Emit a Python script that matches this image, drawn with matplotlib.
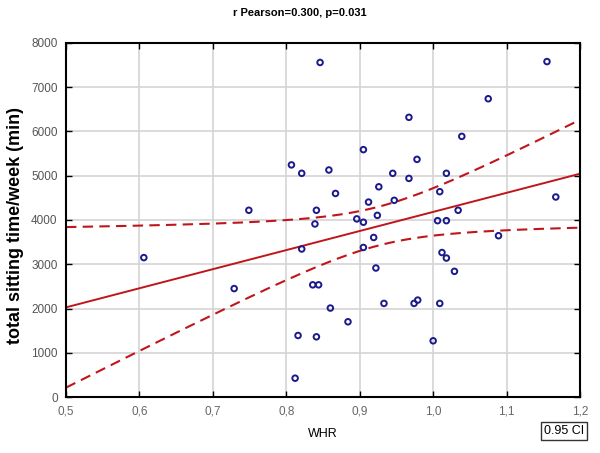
import numpy as np
import matplotlib
matplotlib.use("Agg")
import matplotlib.pyplot as plt

plt.rcParams['font.family'] = ['Liberation Sans', 'DejaVu Sans']

# WHR vs total sitting time/week (min)
whr = [0.846, 0.807, 0.821, 0.858, 0.867, 0.749, 0.841, 0.839, 1.155, 1.075,
       0.967, 1.039, 0.905, 0.978, 0.945, 0.967, 1.018, 0.926, 1.009, 0.912,
       0.947, 1.034, 1.167, 0.896, 0.905, 0.924, 1.006, 1.018, 0.606, 0.821,
       0.729, 0.836, 0.844, 0.860, 0.884, 0.816, 0.841, 0.812, 0.919, 0.905,
       1.089, 1.012, 1.018, 1.029, 0.922, 0.933, 0.974, 0.979, 1.009, 1.000]
sitting = [7560, 5245, 5055, 5130, 4600, 4220, 4220, 3910, 7580, 6740,
           6320, 5890, 5590, 5370, 5055, 4940, 5055, 4750, 4640, 4405,
           4445, 4220, 4520, 4025, 3950, 4105, 3985, 3985, 3150, 3345,
           2450, 2535, 2535, 2010, 1700, 1390, 1360, 425, 3605, 3380,
           3645, 3265, 3140, 2840, 2915, 2115, 2115, 2190, 2115, 1270]

xticks = [0.5, 0.6, 0.7, 0.8, 0.9, 1.0, 1.1, 1.2]
xticklabels = ['0,5', '0,6', '0,7', '0,8', '0,9', '1,0', '1,1', '1,2']
yticks = [0, 1000, 2000, 3000, 4000, 5000, 6000, 7000, 8000]

x = np.array(whr)
y = np.array(sitting)
n = len(x)

# linear fit and 95% confidence band of the mean
slope, intercept = np.polyfit(x, y, 1)
resid = y - (intercept + slope * x)
s = np.sqrt(np.sum(resid ** 2) / (n - 2))
sxx = np.sum((x - x.mean()) ** 2)
tval = 2.0106  # t(0.975, 48)
xs = np.linspace(0.5, 1.2, 200)
yfit = intercept + slope * xs
half = tval * s * np.sqrt(1.0 / n + (xs - x.mean()) ** 2 / sxx)

red = '#c0161b'
fig = plt.figure(figsize=(6, 4.53), dpi=100)
ax = fig.add_axes([0.11, 0.1236, 0.8567, 0.7815])

ax.grid(True, color='#d4d4d4', linewidth=1.2)
ax.set_axisbelow(True)
ax.plot(xs, yfit, color=red, linewidth=1.4)
ax.plot(xs, yfit + half, color=red, linewidth=1.5, linestyle=(0, (5, 3)))
ax.plot(xs, yfit - half, color=red, linewidth=1.5, linestyle=(0, (5, 3)))
ax.scatter(x, y, s=16, facecolors='none', edgecolors='#1a1a8c', linewidths=1.4, zorder=3)

ax.set_xlim(0.5, 1.2)
ax.set_ylim(0, 8000)
ax.set_xticks(xticks)
ax.set_xticklabels(xticklabels)
ax.set_yticks(yticks)
ax.tick_params(direction='in', top=True, right=True, length=4, width=1,
               labelsize=8.5, pad=6)
for lab in ax.get_xticklabels():
    lab.set_color('#666666')
for lab in ax.get_yticklabels():
    lab.set_color('#555555')
for sp in ax.spines.values():
    sp.set_linewidth(1.5)

ax.set_xlabel('WHR', fontsize=9, labelpad=8)
ax.set_ylabel('total sitting time/week (min)', fontsize=13, fontweight='bold')
ax.yaxis.set_label_coords(-0.082, 0.485)
fig.text(0.5, 0.972, 'r Pearson=0.300, p=0.031', ha='center', va='center',
         fontsize=8, fontweight='bold')
fig.text(0.94, 0.048, '0.95 CI', ha='center', va='center', fontsize=9,
         bbox=dict(boxstyle='square,pad=0.25', facecolor='white',
                   edgecolor='#333333', linewidth=1))

fig.savefig('out.png', dpi=100)
